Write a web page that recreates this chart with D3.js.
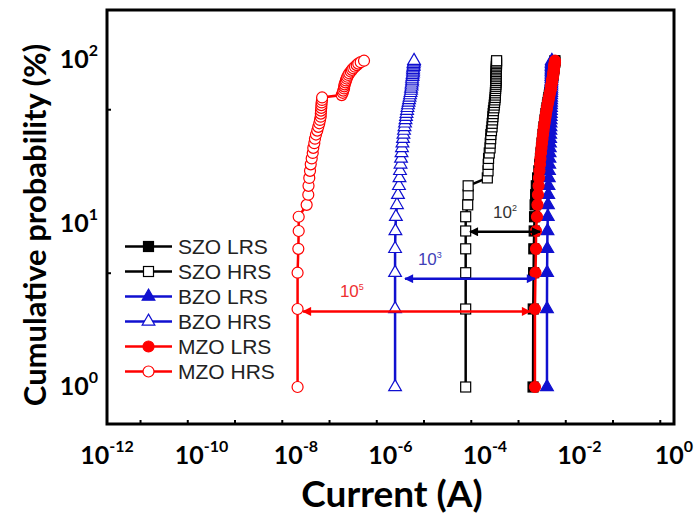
<!DOCTYPE html>
<html>
<head>
<meta charset="utf-8">
<script src="https://cdn.jsdelivr.net/npm/d3@7"></script>
<style>
body{margin:0;background:#fff;}
</style>
</head>
<body>
<script>
//----------------------------------------------------------------------------DATA

// cumulative probability (%) of every point, same for all six series
var prob = [1,3,5,7,9,11,13,15,17,19,21,23,25,27,29,31,33,35,37,39,41,43,45,47,49,51,53,55,57,59,61,63,65,67,69,71,73,75,77,79,81,83,85,87,89,91,93,95,97,99];

// currents (A)
var szoLRS = [1.04e-3,1.05e-3,1.07e-3,1.08e-3,1.10e-3,1.12e-3,1.15e-3,1.18e-3,1.22e-3,1.30e-3,
	1.38e-3,1.44e-3,1.49e-3,1.53e-3,1.57e-3,1.61e-3,1.65e-3,1.69e-3,1.73e-3,1.77e-3,
	1.82e-3,1.86e-3,1.91e-3,1.95e-3,2.00e-3,2.05e-3,2.10e-3,2.15e-3,2.20e-3,2.25e-3,
	2.30e-3,2.35e-3,2.40e-3,2.45e-3,2.48e-3,2.53e-3,2.58e-3,2.61e-3,2.66e-3,2.72e-3,
	2.74e-3,2.79e-3,2.81e-3,2.85e-3,2.87e-3,2.88e-3,2.93e-3,2.95e-3,3.00e-3,3.02e-3];

var szoHRS = [3.9e-5,3.9e-5,3.9e-5,3.9e-5,3.9e-5,3.9e-5,4.3e-5,4.4e-5,4.4e-5,1.12e-4,
	1.16e-4,1.17e-4,1.19e-4,1.23e-4,1.28e-4,1.29e-4,1.32e-4,1.33e-4,1.37e-4,1.41e-4,
	1.42e-4,1.45e-4,1.47e-4,1.49e-4,1.51e-4,1.55e-4,1.57e-4,1.59e-4,1.62e-4,1.64e-4,
	1.66e-4,1.66e-4,1.67e-4,1.68e-4,1.69e-4,1.70e-4,1.70e-4,1.71e-4,1.71e-4,1.72e-4,
	1.72e-4,1.73e-4,1.73e-4,1.73e-4,1.74e-4,1.74e-4,1.75e-4,1.75e-4,1.75e-4,1.76e-4];

var bzoLRS = [2.05e-3,2.05e-3,2.06e-3,2.08e-3,2.10e-3,2.13e-3,2.15e-3,2.18e-3,2.21e-3,2.24e-3,
	2.26e-3,2.29e-3,2.31e-3,2.33e-3,2.35e-3,2.37e-3,2.39e-3,2.40e-3,2.42e-3,2.43e-3,
	2.44e-3,2.45e-3,2.46e-3,2.47e-3,2.48e-3,2.49e-3,2.50e-3,2.50e-3,2.51e-3,2.51e-3,
	2.52e-3,2.52e-3,2.53e-3,2.53e-3,2.54e-3,2.54e-3,2.54e-3,2.55e-3,2.55e-3,2.55e-3,
	2.56e-3,2.56e-3,2.56e-3,2.57e-3,2.57e-3,2.57e-3,2.58e-3,2.58e-3,2.59e-3,2.60e-3];

var bzoHRS = [1.25e-6,1.25e-6,1.25e-6,1.25e-6,1.27e-6,1.30e-6,1.37e-6,1.44e-6,1.51e-6,1.55e-6,
	1.59e-6,1.63e-6,1.67e-6,1.71e-6,1.75e-6,1.79e-6,1.84e-6,1.88e-6,1.93e-6,1.98e-6,
	2.03e-6,2.08e-6,2.13e-6,2.18e-6,2.24e-6,2.29e-6,2.35e-6,2.41e-6,2.47e-6,2.53e-6,
	2.59e-6,2.66e-6,2.72e-6,2.72e-6,2.79e-6,2.79e-6,2.86e-6,2.86e-6,2.86e-6,2.93e-6,
	2.93e-6,3.00e-6,3.00e-6,3.00e-6,3.00e-6,3.08e-6,3.08e-6,3.08e-6,3.15e-6,3.15e-6];

var mzoLRS = [1.14e-3,1.14e-3,1.17e-3,1.20e-3,1.20e-3,1.26e-3,1.29e-3,1.32e-3,1.36e-3,1.39e-3,
	1.42e-3,1.46e-3,1.49e-3,1.53e-3,1.57e-3,1.61e-3,1.65e-3,1.69e-3,1.73e-3,1.77e-3,
	1.82e-3,1.86e-3,1.91e-3,1.95e-3,2.00e-3,2.05e-3,2.10e-3,2.15e-3,2.21e-3,2.26e-3,
	2.32e-3,2.37e-3,2.43e-3,2.49e-3,2.49e-3,2.55e-3,2.62e-3,2.62e-3,2.68e-3,2.75e-3,
	2.75e-3,2.81e-3,2.81e-3,2.88e-3,2.88e-3,2.88e-3,2.95e-3,2.95e-3,3.03e-3,3.03e-3];

var mzoHRS = [1.08e-8,1.08e-8,1.08e-8,1.12e-8,1.14e-8,1.14e-8,1.68e-8,1.82e-8,1.84e-8,1.91e-8,
	1.98e-8,2.05e-8,2.15e-8,2.26e-8,2.32e-8,2.44e-8,2.52e-8,2.65e-8,2.82e-8,2.96e-8,
	3.11e-8,3.22e-8,3.33e-8,3.35e-8,3.38e-8,3.43e-8,3.45e-8,3.49e-8,3.55e-8,3.57e-8,
	9.27e-8,9.74e-8,1.00e-7,1.04e-7,1.05e-7,1.07e-7,1.11e-7,1.14e-7,1.18e-7,1.22e-7,
	1.28e-7,1.34e-7,1.44e-7,1.53e-7,1.63e-7,1.77e-7,1.93e-7,2.08e-7,2.34e-7,2.75e-7];

var seriesNames = ["SZO LRS","SZO HRS","BZO LRS","BZO HRS","MZO LRS","MZO HRS"];
var seriesValues = [szoLRS, szoHRS, bzoLRS, bzoHRS, mzoLRS, mzoHRS];

// on/off ratio arrows
var arrowExp = ["2","3","5"];
var arrowProb = [8.9, 4.6, 2.9];
var arrowFrom = [4.8e-5, 2.03e-6, 1.41e-8];
var arrowTo = [1.46e-3, 1.14e-3, 8.96e-4];
var arrowTextAt = [1.48e-4, 3.8e-6, 8.5e-8];

// ticks
var xMajorExp = [-12,-11,-10,-9,-8,-7,-6,-5,-4,-3,-2,-1,0];
var xLabelExp = [-12,-10,-8,-6,-4,-2,0];
var yMajorExp = [0,1,2];
var yLabelExp = [0,1,2];

//----------------------------------------------------------------------------STYLE
var black = "#000000", blue = "#1010d0", red = "#ff0000";
var seriesColor = [black, black, blue, blue, red, red];
var seriesShape = ["square","square","triangle","triangle","circle","circle"];
var seriesFilled = [true, false, true, false, true, false];
var arrowColor = ["#000000", blue, red];
var arrowTextColor = ["#333333", "#4040b8", "#ee3030"];
var axisFont = "Lato, 'Open Sans', sans-serif";
var textFont = "'Liberation Sans', Arial, sans-serif";

//----------------------------------------------------------------------------SVG
var W = 694, H = 515;
var plot = {left:107, right:674, top:10, bottom:424};

var svg = d3.select("body").append("svg").attr("width", W).attr("height", H)
	.style("background", "#fff");

var x = d3.scaleLog().domain([1e-12, 1]).range([plot.left, plot.right]);

// 10^0 sits at y=387 and 10^2 at y=60
var decadePx = (387 - 60) / 2;
var y = d3.scaleLog()
	.domain([Math.pow(10, -(plot.bottom - 387) / decadePx), Math.pow(10, 2 + (60 - plot.top) / decadePx)])
	.range([plot.bottom, plot.top]);

//--------------------------------------------axes
var pow10 = function(e){ return Math.pow(10, e); };

var gx = svg.append("g").attr("transform", "translate(0," + plot.bottom + ")");
gx.call(d3.axisBottom(x).tickValues(xMajorExp.map(pow10)).tickSize(-8).tickFormat(""));
gx.call(d3.axisBottom(x).tickValues(xMajorExp.slice(0, -1).map(function(e){ return 5 * pow10(e); })).tickSize(-4).tickFormat(""));

var gy = svg.append("g").attr("transform", "translate(" + plot.left + ",0)");
gy.call(d3.axisLeft(y).tickValues(yMajorExp.map(pow10)).tickSize(-8).tickFormat(""));
gy.call(d3.axisLeft(y).tickValues([5, 50]).tickSize(-4).tickFormat(""));

svg.selectAll(".domain").remove();
svg.selectAll(".tick line").attr("stroke", "#000").attr("stroke-width", 2);

svg.append("rect")
	.attr("x", plot.left).attr("y", plot.top)
	.attr("width", plot.right - plot.left).attr("height", plot.bottom - plot.top)
	.attr("fill", "none").attr("stroke", "#000").attr("stroke-width", 3);

function powerText(sel, exp){
	sel.append("tspan").text("10");
	sel.append("tspan").attr("dy", -12).attr("font-size", 16).text(exp);
}

svg.selectAll(".xlab").data(xLabelExp).enter().append("text")
	.attr("x", function(d){ return x(pow10(d)); })
	.attr("y", 464)
	.attr("text-anchor", "middle")
	.attr("font-family", axisFont).attr("font-weight", "bold").attr("font-size", 25)
	.each(function(d){ powerText(d3.select(this), String(d)); });

svg.selectAll(".ylab").data(yLabelExp).enter().append("text")
	.attr("x", 98)
	.attr("y", function(d){ return y(pow10(d)) + 8; })
	.attr("text-anchor", "end")
	.attr("font-family", axisFont).attr("font-weight", "bold").attr("font-size", 25)
	.each(function(d){ powerText(d3.select(this), String(d)); });

svg.append("text")
	.attr("x", 392).attr("y", 507)
	.attr("text-anchor", "middle")
	.attr("font-family", axisFont).attr("font-weight", "bold").attr("font-size", 37)
	.text("Current (A)");

svg.append("text")
	.attr("transform", "translate(46,225) rotate(-90)")
	.attr("text-anchor", "middle")
	.attr("font-family", axisFont).attr("font-weight", "bold").attr("font-size", 31)
	.text("Cumulative probability (%)");

//--------------------------------------------markers
var triangle = d3.symbol().type(d3.symbolTriangle).size(70);

function drawMarker(g, shape, color, filled, cx, cy){
	var fill = filled ? color : "#fff";
	if(shape == "square"){
		g.append("rect").attr("x", cx - 5).attr("y", cy - 5).attr("width", 10).attr("height", 10)
			.attr("fill", fill).attr("stroke", color).attr("stroke-width", 1.2);
	}else if(shape == "triangle"){
		g.append("path").attr("d", triangle).attr("transform", "translate(" + cx + "," + cy + ")")
			.attr("fill", fill).attr("stroke", color).attr("stroke-width", 1.2);
	}else{
		g.append("circle").attr("cx", cx).attr("cy", cy).attr("r", 5.5)
			.attr("fill", fill).attr("stroke", color).attr("stroke-width", 1.2);
	}
}

//--------------------------------------------series
var line = d3.line()
	.x(function(d){ return x(d[0]); })
	.y(function(d){ return y(d[1]); });

for(var i = 0; i < seriesValues.length; i++){
	var pts = seriesValues[i].map(function(v, k){ return [v, prob[k]]; });
	var g = svg.append("g");
	g.append("path").attr("d", line(pts))
		.attr("fill", "none").attr("stroke", seriesColor[i]).attr("stroke-width", 2.5);
	for(var k = 0; k < pts.length; k++){
		drawMarker(g, seriesShape[i], seriesColor[i], seriesFilled[i], x(pts[k][0]), y(pts[k][1]));
	}
}

//--------------------------------------------arrows
var defs = svg.append("defs");
arrowColor.forEach(function(c, i){
	defs.append("marker")
		.attr("id", "head" + i)
		.attr("viewBox", "0 0 10 10").attr("refX", 9).attr("refY", 5)
		.attr("markerUnits", "userSpaceOnUse").attr("markerWidth", 13).attr("markerHeight", 9)
		.attr("orient", "auto-start-reverse")
		.append("path").attr("d", "M0,0L10,5L0,10z").attr("fill", c);
});

for(var a = 0; a < arrowExp.length; a++){
	svg.append("line")
		.attr("x1", x(arrowFrom[a])).attr("x2", x(arrowTo[a]))
		.attr("y1", y(arrowProb[a])).attr("y2", y(arrowProb[a]))
		.attr("stroke", arrowColor[a]).attr("stroke-width", 2.5)
		.attr("marker-start", "url(#head" + a + ")")
		.attr("marker-end", "url(#head" + a + ")");
	var t = svg.append("text")
		.attr("x", x(arrowTextAt[a])).attr("y", y(arrowProb[a]) - 14)
		.attr("font-family", textFont).attr("font-size", 17)
		.attr("fill", arrowTextColor[a]);
	t.append("tspan").text("10");
	t.append("tspan").attr("dy", -7).attr("font-size", 9).text(arrowExp[a]);
}

//--------------------------------------------legend
var legend = svg.append("g");
for(var j = 0; j < seriesNames.length; j++){
	var ly = 246.5 + j * 25;
	legend.append("line").attr("x1", 125).attr("x2", 172).attr("y1", ly).attr("y2", ly)
		.attr("stroke", seriesColor[j]).attr("stroke-width", 2.5);
	drawMarker(legend, seriesShape[j], seriesColor[j], seriesFilled[j], 148.5, ly);
	legend.append("text").attr("x", 178).attr("y", ly).attr("dy", "0.35em")
		.attr("font-family", textFont).attr("font-size", 21).attr("fill", "#222")
		.text(seriesNames[j]);
}
</script>
</body>
</html>
